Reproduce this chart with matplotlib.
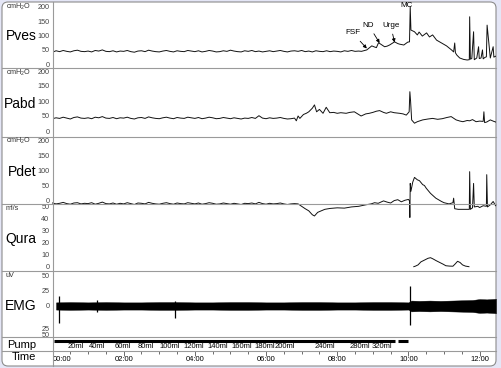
import matplotlib.pyplot as plt
import numpy as np
from matplotlib.patches import FancyBboxPatch
from matplotlib.lines import Line2D

plt.rcParams['font.family'] = ['Liberation Sans', 'DejaVu Sans']
plt.rcParams['mathtext.default'] = 'regular'

W, H = 501, 368

# ---- data (time in minutes) ----
# first part of each pressure trace sampled every 0.1 min (0.0 .. 6.8)
pves_base = [42, 47, 44, 48, 45, 43, 47, 49, 45, 44,
             46, 43, 48, 46, 50, 45, 44, 47, 43, 46,
             45, 48, 44, 42, 46, 47, 44, 49, 46, 44,
             43, 46, 48, 45, 43, 47, 45, 44, 48, 46,
             44, 47, 43, 45, 48, 46, 43, 44, 47, 45,
             49, 46, 44, 43, 47, 45, 48, 44, 46, 43,
             45, 47, 44, 46, 48, 45, 43, 46, 47]
pves_t = [6.9, 7.0, 7.1, 7.2, 7.3, 7.4, 7.5, 7.6, 7.7, 7.8, 7.9, 8.0, 8.1, 8.2, 8.3,
          8.4, 8.5, 8.6, 8.68, 8.83, 8.9, 8.97, 9.05, 9.1, 9.16, 9.22, 9.33, 9.4,
          9.47, 9.61, 9.7, 9.75, 9.87, 9.98, 10.03, 10.05, 10.07, 10.17, 10.25,
          10.3, 10.39, 10.51, 10.59, 10.68, 10.79, 10.93, 11.07, 11.21, 11.27,
          11.3, 11.32, 11.36, 11.44, 11.55, 11.65, 11.71, 11.72, 11.74, 11.78,
          11.83, 11.85, 11.92, 11.97, 11.99, 12.04, 12.08, 12.1, 12.15, 12.19,
          12.21, 12.3, 12.38, 12.4, 12.45]
pves_v = [45, 48, 44, 46, 43, 47, 45, 44, 47, 44, 46, 45, 43, 47, 45,
          48, 45, 46, 45, 50, 57, 64, 60, 58, 75, 70, 61, 63,
          67, 78, 72, 70, 67, 77, 78, 200, 119, 113, 102,
          112, 98, 109, 95, 102, 84, 74, 64, 50, 43,
          74, 40, 32, 22, 17, 15, 16, 165, 18, 20,
          113, 16, 22, 61, 20, 22, 50, 19, 24, 26,
          136, 22, 61, 25, 28]

pabd_base = [41, 44, 42, 46, 43, 40, 45, 47, 43, 42,
             44, 41, 46, 44, 48, 43, 42, 45, 41, 44,
             43, 46, 42, 40, 44, 45, 42, 47, 44, 42,
             41, 44, 46, 43, 41, 45, 43, 42, 46, 44,
             42, 45, 41, 43, 46, 44, 41, 42, 45, 43,
             41, 44, 42, 40, 43, 42, 45, 42, 51, 43,
             41, 44, 42, 43, 45, 42, 40, 41, 43]
pabd_t = [6.85, 6.9, 6.95, 7.05, 7.13, 7.2, 7.3, 7.36, 7.42, 7.5, 7.6, 7.69, 7.79,
          7.9, 8.0, 8.1, 8.25, 8.35, 8.48, 8.6, 8.67, 8.8, 8.9, 9.0, 9.1, 9.19,
          9.3, 9.38, 9.5, 9.6, 9.75, 9.85, 9.94, 10.02, 10.04, 10.06, 10.09,
          10.17, 10.25, 10.4, 10.55, 10.68, 10.82, 10.95, 11.08, 11.2, 11.34,
          11.45, 11.53, 11.65, 11.72, 11.8, 11.9, 12.0, 12.1, 12.12, 12.14,
          12.2, 12.3, 12.4, 12.45]
pabd_v = [34, 50, 42, 55, 59, 64, 76, 87, 64, 72, 59, 79, 61,
          62, 59, 61, 59, 62, 64, 55, 50, 57, 59, 62, 66, 68,
          62, 59, 64, 61, 59, 57, 53, 64, 131, 100, 37,
          26, 31, 37, 40, 42, 39, 41, 45, 48, 37,
          33, 31, 35, 34, 38, 31, 33, 32, 64, 28,
          30, 37, 32, 30]

pdet_base = [-9, -12, -10, -7, -11, -13, -9, -8, -12, -10,
             -11, -8, -13, -10, -6, -11, -12, -9, -13, -10,
             -12, -8, -11, -14, -9, -10, -12, -7, -10, -12,
             -13, -10, -8, -11, -13, -9, -11, -12, -8, -10,
             -12, -9, -13, -11, -8, -10, -13, -12, -9, -11,
             -13, -10, -12, -14, -10, -11, -9, -12, -7, -11,
             -13, -10, -12, -11, -9, -12, -14, -12, -11]
pdet_t = [6.9, 7.0, 7.1, 7.2, 7.3, 7.36, 7.45, 7.55, 7.65, 7.8, 8.0, 8.2, 8.4,
          8.6, 8.8, 8.95, 9.05, 9.15, 9.3, 9.4, 9.5, 9.6, 9.7, 9.8, 9.9, 10.0,
          10.03, 10.04, 10.05, 10.07, 10.12, 10.17, 10.25, 10.31, 10.4, 10.45,
          10.5, 10.62, 10.77, 10.93, 11.0, 11.14, 11.25, 11.27, 11.3, 11.4,
          11.6, 11.71, 11.72, 11.74, 11.8, 11.83, 11.85, 11.95, 12.0, 12.1,
          12.19, 12.2, 12.22, 12.3, 12.38, 12.45]
pdet_v = [-12, -20, -28, -35, -48, -52, -40, -35, -30, -27, -25, -26, -22,
          -20, -15, -12, -8, -10, -2, -6, -9, -1, 2, -5, 0, 3,
          -2, -57, 56, 30, 60, 76, 68, 65, 52, 49,
          40, 23, 7, -4, -8, -12, -8, 7, -28, -30,
          -30, -30, 95, -30, -25, 56, -22, -20, -24, -18,
          -20, 85, -22, -15, -4, -18]

qura_t = [10.15, 10.2, 10.27, 10.35, 10.45, 10.55, 10.62, 10.69, 10.78, 10.88,
          10.98, 11.05, 11.15, 11.25, 11.32, 11.38, 11.45, 11.52, 11.6, 11.7]
qura_v = [0, 0.5, 1.5, 4, 5.5, 7, 7.5, 6.5, 5, 3.5,
          2, 0.8, 0.5, 0.4, 2.5, 4.5, 3.5, 1.5, 0.5, 0]

emg_t = [0.1, 0.5, 1.0, 1.5, 2.0, 2.5, 3.0, 3.5, 4.0, 4.5, 5.0, 5.5, 6.0, 6.5, 7.0,
         7.5, 8.0, 8.5, 9.0, 9.5, 10.0, 10.08, 10.3, 10.6, 10.9, 11.2, 11.5,
         11.8, 12.0, 12.2, 12.46]
emg_amp = [6, 6.5, 6, 6.5, 6, 6, 6.5, 6.5, 6, 6, 6.5, 6.5, 6, 6, 6.5,
           6.5, 6, 6, 6.5, 6.5, 6, 9, 8.5, 9, 8.5, 9, 9.5,
           10, 11.5, 11, 12]
emg_spike_t = [0.17, 1.26, 3.43, 10.05]
emg_spike_hi = [16, 10, 8, 33]
emg_spike_lo = [-29, -10, -20, -32]

pump_start = [0.05, 9.7]
pump_end = [9.61, 9.98]
pump_labels = ['20ml', '40ml', '60ml', '80ml', '100ml', '120ml', '140ml',
               '160ml', '180ml', '200ml', '240ml', '280ml', '320ml']
pump_label_t = [0.65, 1.26, 1.97, 2.61, 3.29, 3.96, 4.64, 5.31, 5.96, 6.52,
                7.65, 8.63, 9.27]
time_ticks = [0, 2, 4, 6, 8, 10, 12]
time_labels = ['00:00', '02:00', '04:00', '06:00', '08:00', '10:00', '12:00']

base_t = np.round(np.arange(len(pves_base)) * 0.1, 2)

# ---- figure ----
sep = '#9a9a9a'
ink = '#111111'
XMAX = 12.46

fig = plt.figure(figsize=(W / 100, H / 100), dpi=100, facecolor='#e4e6f6')

box = FancyBboxPatch((2 / W, 1 - 366 / H), 494 / W, 364 / H,
                     boxstyle='round,pad=0,rounding_size=0.012', mutation_aspect=W / H,
                     transform=fig.transFigure, facecolor='white', edgecolor='#8c8c8c',
                     lw=0.8, zorder=-1)
fig.add_artist(box)


def axes_px(x0, y0, x1, y1):
    ax = fig.add_axes([x0 / W, 1 - y1 / H, (x1 - x0) / W, (y1 - y0) / H])
    ax.set_facecolor('none')
    for s in ax.spines.values():
        s.set_visible(False)
    ax.set_xlim(0, XMAX)
    ax.set_xticks([])
    return ax


def hline_px(y):
    fig.add_artist(Line2D([2 / W, 496 / W], [1 - y / H, 1 - y / H],
                          transform=fig.transFigure, color=sep, lw=0.8))


panels = [
    ('Pves', 'cmH$_2$O', 2, 68, (-12.8, 216.3), [0, 50, 100, 150, 200], None),
    ('Pabd', 'cmH$_2$O', 68, 136.7, (-19, 210), [0, 50, 100, 150, 200], None),
    ('Pdet', 'cmH$_2$O', 136.7, 204, (-12.3, 211), [0, 50, 100, 150, 200], None),
    ('Qura', 'ml/s', 204, 270.7, (-3.35, 52.3), [0, 10, 20, 30, 40, 50], None),
    ('EMG', 'uV', 270.7, 337.3, (-52.2, 58.8), [50, 25, 0, -37, -48],
     ['50', '25', '0', '25', '50']),
]

axs = {}
for name, unit, y0, y1, ylim, ticks, labels in panels:
    ax = axes_px(52.5, y0, 496, y1)
    ax.set_ylim(*ylim)
    ax.set_yticks(ticks)
    ax.set_yticklabels(labels if labels else [str(t) for t in ticks])
    ax.tick_params(axis='y', length=0, pad=2.2, labelsize=5.2, labelcolor='#444444')
    fig.text(36.5 / W, 1 - ((y0 + y1) / 2 + 1.5) / H, name, ha='right', va='center',
             fontsize=10)
    fig.text(6 / W, 1 - (y0 + 4.5) / H, unit, ha='left', va='center', fontsize=5.2,
             color='#333333')
    axs[name] = ax

lw = 0.7
ax = axs['Pves']
ax.plot(np.concatenate([base_t, pves_t]), pves_base + pves_v, color=ink, lw=lw)
arrow = dict(arrowstyle='-|>', color='k', lw=0.6, mutation_scale=5, shrinkA=2, shrinkB=0)
ax.annotate('FSF', xy=(8.83, 55), xytext=(8.43, 109), ha='center', va='center',
            fontsize=5.8, arrowprops=arrow)
ax.annotate('ND', xy=(9.19, 74), xytext=(8.88, 136), ha='center', va='center',
            fontsize=5.8, arrowprops=arrow)
ax.annotate('Urge', xy=(9.61, 76), xytext=(9.5, 136), ha='center', va='center',
            fontsize=5.8, arrowprops=arrow)
ax.text(9.95, 204, 'MC', ha='center', va='center', fontsize=5.8)

axs['Pabd'].plot(np.concatenate([base_t, pabd_t]), pabd_base + pabd_v, color=ink, lw=lw)
axs['Pdet'].plot(np.concatenate([base_t, pdet_t]), pdet_base + pdet_v, color=ink, lw=lw,
                 clip_on=False)
axs['Qura'].plot(qura_t, qura_v, color=ink, lw=lw)

ax = axs['EMG']
amp = np.array(emg_amp)
ax.fill_between(emg_t, -amp, amp, color='black', lw=0.3)
ax.vlines(emg_spike_t, emg_spike_lo, emg_spike_hi, color='black', lw=0.9)

# pump row
ax = axes_px(52.5, 337.3, 496, 351)
ax.set_ylim(0, 1)
ax.set_yticks([])
ax.hlines([0.73] * len(pump_start), pump_start, pump_end, color='black', lw=2.2)
for t, lab in zip(pump_label_t, pump_labels):
    ax.text(t, 0.3, lab, ha='center', va='center', fontsize=5.5)
fig.text(36.5 / W, 1 - 345 / H, 'Pump', ha='right', va='center', fontsize=8)

# time row
ax = axes_px(52.5, 351, 496, 366)
ax.set_ylim(0, 1)
ax.set_yticks([])
ax.set_xticks(time_ticks)
ax.set_xticks(np.arange(0, 12.5, 0.5), minor=True)
ax.xaxis.set_ticks_position('top')
ax.tick_params(axis='x', which='major', direction='in', length=3.5, width=0.6,
               color='#555555', labeltop=False, labelbottom=False)
ax.tick_params(axis='x', which='minor', direction='in', length=2, width=0.6,
               color='#555555')
for t, lab in zip(time_ticks, time_labels):
    ax.text(t, 0.42, lab, ha='left' if t == 0 else 'center', va='center', fontsize=5.5)
fig.text(36.5 / W, 1 - 357.5 / H, 'Time', ha='right', va='center', fontsize=8)

for y in [68, 136.7, 204, 270.7, 337.3, 351]:
    hline_px(y)
fig.add_artist(Line2D([52.5 / W, 52.5 / W], [1 - 2 / H, 1 - 366 / H],
                      transform=fig.transFigure, color=sep, lw=0.8))

fig.savefig('out.png', dpi=100, facecolor=fig.get_facecolor())
